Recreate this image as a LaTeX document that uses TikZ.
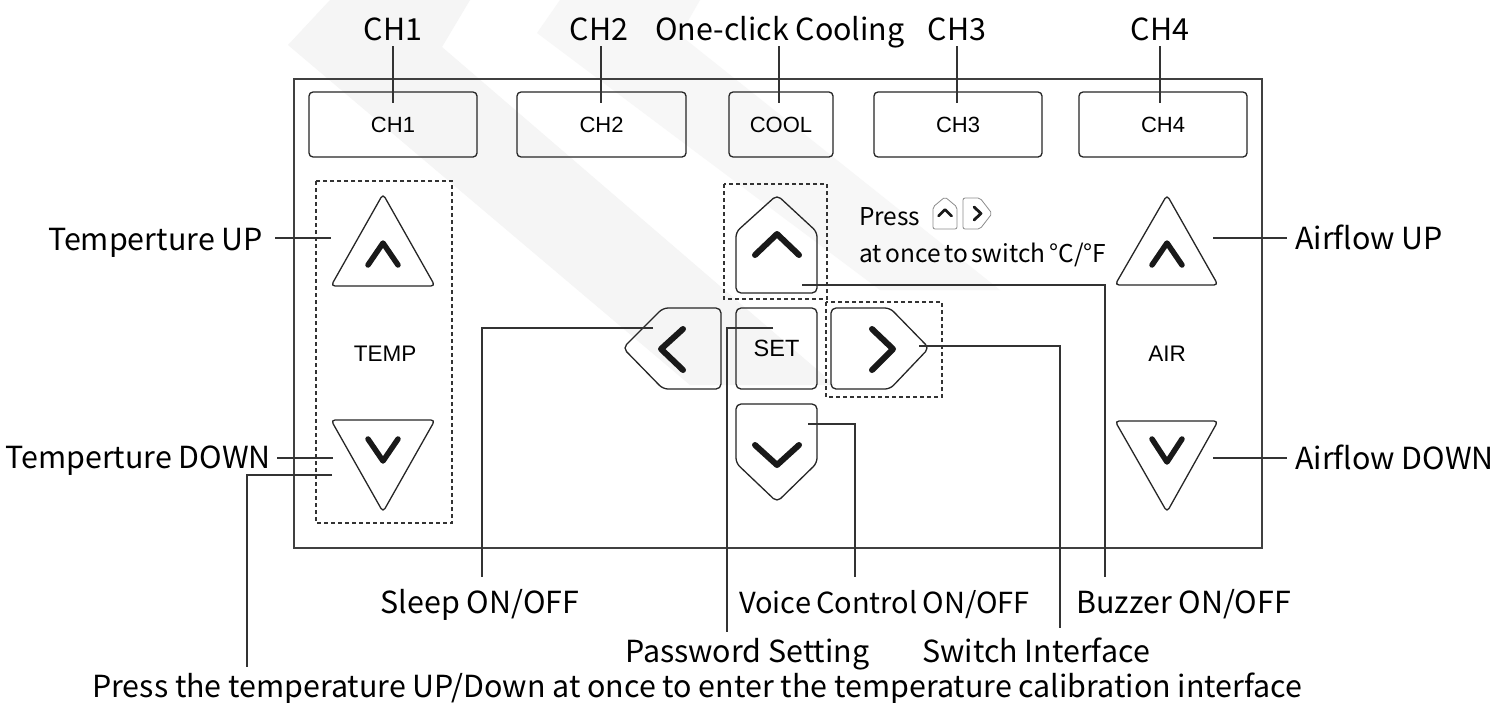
\documentclass[tikz,border=0pt]{standalone}
\usepackage{fontspec}
\newfontfamily\lab{Noto Sans CJK SC}
\newfontfamily\btn{Liberation Sans}
\begin{document}
\begin{tikzpicture}[x=1pt,y=-1pt,
  frame/.style={draw=black!75, line width=1.6pt},
  btnbox/.style={draw=black!85, line width=1.3pt, rounded corners=4pt, font=\btn\fontsize{22}{24}\selectfont, inner sep=0pt},
  btnshape/.style={draw=black!85, line width=1.3pt, rounded corners=4pt},
  chev/.style={draw=black!90, line width=5.5pt, line cap=round, line join=round},
  conn/.style={draw=black!80, line width=1.2pt},
  dbox/.style={draw=black!80, line width=1.2pt, dash pattern=on 4pt off 3pt},
  lbl/.style={font=\lab\fontsize{30.4}{34}\selectfont, inner sep=0pt},
  note/.style={font=\lab\fontsize{24.5}{28}\selectfont, inner sep=0pt, anchor=base west},
  btntext/.style={font=\btn\fontsize{22.5}{24}\selectfont, inner sep=0pt},
  wm/.style={fill=black!4, draw=none}]
\useasboundingbox (0,0) rectangle (1509,702);
\fill[white] (0,0) rectangle (1509,702);
% watermark bands
\fill[wm] (288,45) -- (330,0) -- (470,0) -- (442,47) -- (835,385) -- (690,385) -- cycle;
\fill[wm, fill=black!3] (537,33) -- (560,0) -- (700,0) -- (680,35) -- (1000,290) -- (880,290) -- cycle;
% frame
\draw[frame] (294,79) rectangle (1262,548);
% top buttons
\node[btnbox, minimum width=168pt, minimum height=65pt] (bch1) at (393,124.5) {CH1};
\node[btnbox, minimum width=169pt, minimum height=65pt] (bch2) at (601.5,124.5) {CH2};
\node[btnbox, minimum width=104pt, minimum height=65pt] (bcool) at (781,124.5) {COOL};
\node[btnbox, minimum width=168pt, minimum height=65pt] (bch3) at (958,124.5) {CH3};
\node[btnbox, minimum width=168pt, minimum height=65pt] (bch4) at (1163,124.5) {CH4};
% top labels
\node[lbl, anchor=base] (lch1) at (393,40) {CH1};
\node[lbl, anchor=base] (lch2) at (599,40) {CH2};
\node[lbl, anchor=base] (lcool) at (780,40) {One-click Cooling};
\node[lbl, anchor=base] (lch3) at (957,40) {CH3};
\node[lbl, anchor=base] (lch4) at (1160,40) {CH4};
\foreach \n/\x in {1/393, 2/601, c/779, 3/957, 4/1160}{
  \coordinate (t\n a) at (\x,46); \coordinate (t\n b) at (\x,103);
  \draw[conn] (t\n a) -- (t\n b);
}
% TEMP group
\draw[dbox] (316,181) rectangle (452,523);
\draw[btnshape] (383,194) -- (435,286) -- (331,286) -- cycle;
\draw[chev] (368,265) -- (383,243) -- (398,265);
\draw[btnshape] (331,420) -- (435,420) -- (383,512) -- cycle;
\draw[chev] (368,439) -- (383,461) -- (398,439);
\node[btntext] (temp) at (385,354) {TEMP};
% AIR group
\draw[btnshape] (1167,195) -- (1218,285) -- (1115,285) -- cycle;
\draw[chev] (1152,265) -- (1167,243) -- (1182,265);
\draw[btnshape] (1115,421) -- (1218,421) -- (1167,512) -- cycle;
\draw[chev] (1152,439) -- (1167,462) -- (1182,439);
\node[btntext] (air) at (1167,354) {AIR};
% centre cluster
\draw[dbox] (724,184) rectangle (827,299);
\draw[dbox] (826,302) rectangle (942,397);
\draw[btnshape, rounded corners=5pt] (736,293) -- (736,232) -- (777,195) -- (817,232) -- (817,293) -- cycle;
\draw[chev, line width=6pt] (755,255) -- (777,234) -- (799,255);
\draw[btnshape, rounded corners=5pt] (721,308) -- (663,308) -- (623,348) -- (663,389) -- (721,389) -- cycle;
\draw[chev, line width=6pt] (683,329) -- (661,349) -- (683,370);
\node[btnbox, minimum width=81pt, minimum height=81pt, rounded corners=5pt, font=\btn\fontsize{23.5}{25}\selectfont] (set) at (776.5,348.5) {SET};
\draw[btnshape, rounded corners=5pt] (831,308) -- (890,308) -- (929,348) -- (890,389) -- (831,389) -- cycle;
\draw[chev, line width=6pt] (872,329) -- (893,349) -- (872,370);
\draw[btnshape, rounded corners=5pt] (736,404) -- (817,404) -- (817,463) -- (777,502) -- (736,463) -- cycle;
\draw[chev, line width=6pt] (755,445) -- (777,465) -- (799,445);
% press note
\node[note] (press) at (859,225) {Press};
\node[note] (once) at (859,262) {at\hspace{3.5pt}once\hspace{3.5pt}to\hspace{3.5pt}switch\hspace{4pt}°C/°F};
\draw[draw=black!45, line width=0.8pt, rounded corners=2pt, fill=white] (933,229) -- (933,207) -- (945,197) -- (957,207) -- (957,229) -- cycle;
\draw[draw=black!90, line width=2.8pt, line cap=round, line join=round] (938.5,216) -- (945,209.5) -- (951.5,216);
\draw[draw=black!45, line width=0.8pt, rounded corners=2pt, fill=white] (963,198) -- (980,198) -- (992,213.5) -- (980,229) -- (963,229) -- cycle;
\draw[draw=black!90, line width=2.8pt, line cap=round, line join=round] (974,207) -- (981,213.5) -- (974,220);
% side labels
\node[lbl, anchor=base east] (ltup) at (263,250) {Temperture UP};
\node[lbl, anchor=base east] (ltdn) at (271,468) {Temperture DOWN};
\node[lbl, anchor=base west] (laup) at (1295,249) {Airflow UP};
\node[lbl, anchor=base west] (ladn) at (1295,469) {Airflow DOWN};
\coordinate (tu1) at (275,238); \coordinate (tu2) at (331,238);
\draw[conn] (tu1) -- (tu2);
\coordinate (td1) at (277,458); \coordinate (td2) at (333,458);
\draw[conn] (td1) -- (td2);
\coordinate (au1) at (1213,238); \coordinate (au2) at (1287,238);
\draw[conn] (au1) -- (au2);
\coordinate (ad1) at (1213,458); \coordinate (ad2) at (1287,458);
\draw[conn] (ad1) -- (ad2);
% calibration
\coordinate (ca1) at (332,475); \coordinate (ca2) at (247,667);
\draw[conn] (ca1) -| (ca2);
\node[lbl, anchor=base west] (lcal) at (92,697) {Press the temperature UP/Down at once to enter the temperature calibration interface};
% bottom connectors
\coordinate (sl1) at (653,328); \coordinate (sl2) at (482,577);
\draw[conn] (sl1) -| (sl2);
\coordinate (pw1) at (773,328); \coordinate (pw2) at (727,632);
\draw[conn] (pw1) -| (pw2);
\coordinate (vo1) at (808,424); \coordinate (vo2) at (855,577);
\draw[conn] (vo1) -| (vo2);
\coordinate (sw1) at (919,346); \coordinate (sw2) at (1060,628);
\draw[conn] (sw1) -| (sw2);
\coordinate (bz1) at (802,285); \coordinate (bz2) at (1105,577);
\draw[conn] (bz1) -| (bz2);
\node[lbl, anchor=base] (lsleep) at (480,613) {Sleep ON/OFF};
\node[lbl, font=\lab\fontsize{29}{33}\selectfont, anchor=base west] (lvoice) at (739,613) {Voice\hspace{5pt}Control\hspace{5pt}ON/OFF};
\node[lbl, anchor=base west] (lbuzz) at (1076,613) {Buzzer ON/OFF};
\node[lbl, anchor=base west] (lpw) at (625,662) {Password Setting};
\node[lbl, anchor=base west] (lsw) at (922,662) {Switch Interface};
\end{tikzpicture}
\end{document}
